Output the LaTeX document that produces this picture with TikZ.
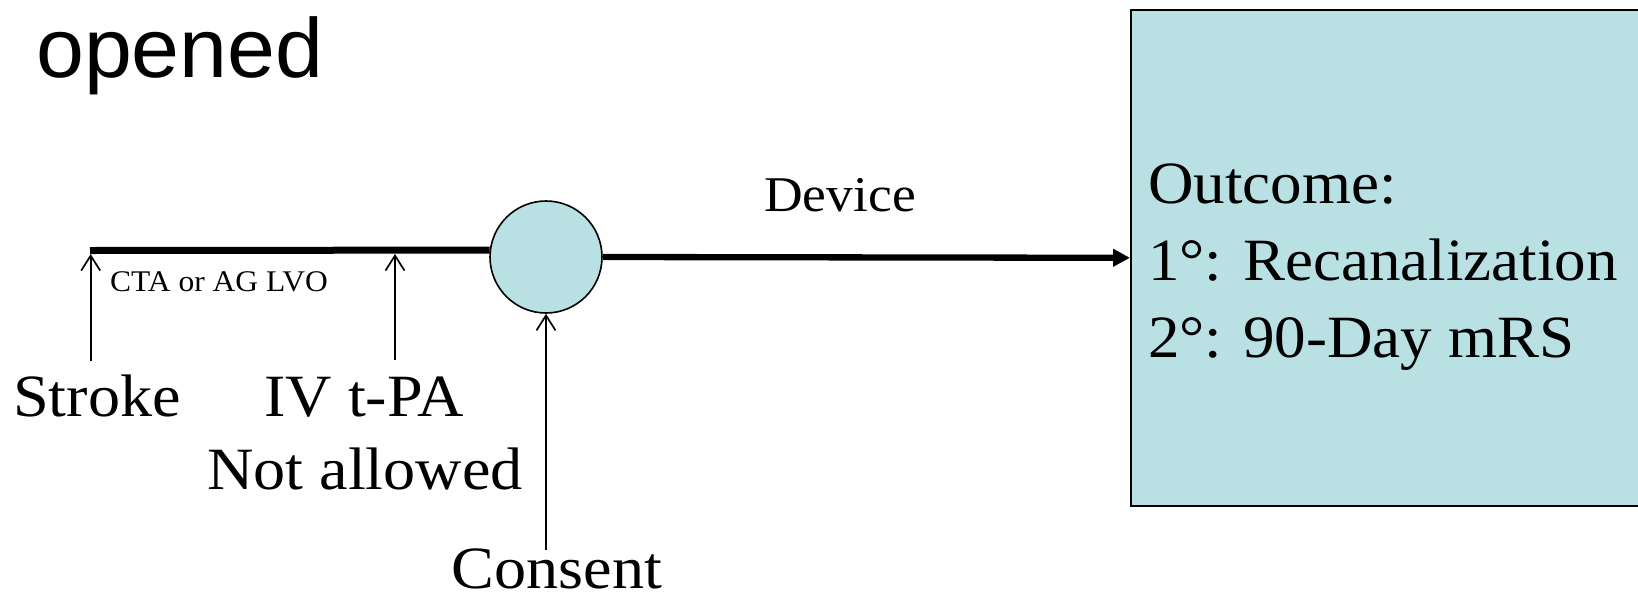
\documentclass[tikz,border=0pt]{standalone}
\usepackage{fontspec}
\setmainfont{Liberation Serif}
\newfontfamily\sansf[FakeStretch=1.025]{Liberation Sans}
\newfontfamily\serifw[FakeStretch=1.07]{Liberation Serif}
\newfontfamily\serifb[FakeStretch=1.05]{Liberation Serif}
\usetikzlibrary{arrows.meta}
\definecolor{cyanfill}{RGB}{185,224,227}
\begin{document}
\begin{tikzpicture}[x=1pt,y=-1pt,
  lbl/.style={inner sep=0pt, anchor=base, font=\serifw\fontsize{60}{72}\selectfont},
  boxtxt/.style={inner sep=0pt, anchor=base west, font=\serifb\fontsize{60}{72}\selectfont},
  uparr/.style={line width=1.7pt, -{Straight Barb[length=15pt,width=19pt]}},
  thickline/.style={line width=7pt},
  mainarr/.style={line width=6.3pt, -{Triangle[length=17pt,width=17pt]}},
  shaded/.style={draw, line width=1.6pt, fill=cyanfill}]
\useasboundingbox (0,0) rectangle (1638,595);
\clip (0,0) rectangle (1638,595);
% title
\node[inner sep=0pt, anchor=base west, font=\sansf\fontsize{84}{100}\selectfont] (op) at (36,77) {opened};
% outcome box
\node[shaded, rectangle, minimum width=540pt, minimum height=496pt, anchor=north west, inner sep=0pt] (box) at (1130,9) {};
\node[boxtxt] (oc1) at (1148,203) {Outcome:};
\node[boxtxt] (oc2) at (1148,280) {1°: Recanalization};
\node[boxtxt] (oc3) at (1148,357) {2°: 90-Day mRS};
% circle
\node[shaded, circle, minimum size=112pt, inner sep=0pt] (circ) at (546,257) {};
% timeline
\coordinate (t0) at (90,250.5);
\draw[thickline] (t0) -- (circ.173);
\draw[mainarr] (circ.east) -- (box.west);
\node[lbl, font=\serifw\fontsize{50}{60}\selectfont] (dev) at (840,211) {Device};
\node[inner sep=0pt, anchor=base west, font=\serifb\fontsize{30}{36}\selectfont] (cta) at (110,291.7) {CTA or AG LVO};
% markers
\coordinate (a1) at (90.7,254);
\coordinate (b1) at (90.7,361);
\coordinate (a2) at (395,254);
\coordinate (b2) at (395,360);
\coordinate (c1) at (546,550);
\draw[uparr] (b1) -- (a1);
\draw[uparr] (b2) -- (a2);
\draw[uparr] (c1) -- (circ.south);
% labels
\node[lbl] (stroke) at (97,416) {Stroke};
\node[lbl] (iv) at (364,416) {IV t-PA};
\node[lbl] (notal) at (365,489) {Not allowed};
\node[lbl] (consent) at (557,588) {Consent};
\end{tikzpicture}
\end{document}
